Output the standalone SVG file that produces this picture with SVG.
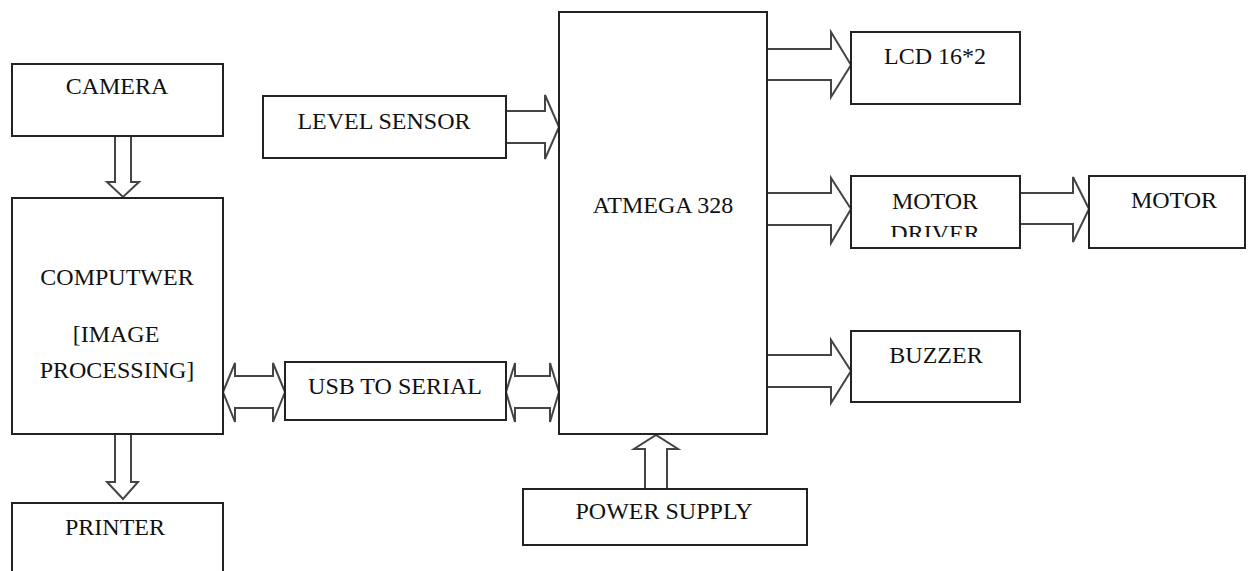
<svg xmlns="http://www.w3.org/2000/svg" width="1249" height="571" viewBox="0 0 1249 571">
<style>
.box{fill:#fff;stroke:#222;stroke-width:2}
.arr{fill:#fff;stroke:#444;stroke-width:2;stroke-linejoin:miter}
text{font-family:"Liberation Serif","DejaVu Serif",serif;font-size:24px;fill:#111;text-anchor:middle}
</style>
<defs>
<clipPath id="drvclip"><rect x="851" y="176" width="169" height="61"/></clipPath>
</defs>
<rect width="1249" height="571" fill="#fff"/>
<g id="connectors">
<polygon class="arr" points="115,136 131,136 131,182 139,182 123,197 107,182 115,182"/>
<polygon class="arr" points="115,434 131,434 131,482 138,482 123,499 107,482 115,482"/>
<polygon class="arr" points="645,489 667,489 667,449 678,449 656,435 634,449 645,449"/>
<polygon class="arr" points="223,392 235,363 235,376 273,376 273,363 285,392 273,422 273,408 235,408 235,422"/>
<polygon class="arr" points="506,392 515,363 515,376 550,376 550,363 559,392 550,422 550,408 515,408 515,422"/>
<polygon class="arr" points="506,111 545,111 545,95 559,127 545,159 545,143 506,143"/>
<polygon class="arr" points="767,49 831,49 831,32 851,65 831,97 831,80 767,80"/>
<polygon class="arr" points="767,193 831,193 831,178 851,209 831,243 831,225 767,225"/>
<polygon class="arr" points="767,355 831,355 831,340 851,371 831,403 831,387 767,387"/>
<polygon class="arr" points="1020,193 1073,193 1073,177 1089,209 1073,242 1073,224 1020,224"/>
</g>
<g id="camera"><rect class="box" x="12" y="64" width="211" height="72"/><text x="117" y="94">CAMERA</text></g>
<g id="computer"><rect class="box" x="12" y="198" width="211" height="236"/><text x="117" y="285">COMPUTWER</text><text x="116" y="342">[IMAGE</text><text x="117" y="378">PROCESSING]</text></g>
<g id="printer"><rect class="box" x="12" y="503" width="211" height="72"/><text x="115" y="535">PRINTER</text></g>
<g id="level-sensor"><rect class="box" x="263" y="96" width="243" height="62"/><text x="384" y="129">LEVEL SENSOR</text></g>
<g id="usb-serial"><rect class="box" x="285" y="362" width="221" height="58"/><text x="395" y="394">USB TO SERIAL</text></g>
<g id="atmega"><rect class="box" x="559" y="12" width="208" height="422"/><text x="663" y="213">ATMEGA 328</text></g>
<g id="power-supply"><rect class="box" x="523" y="489" width="284" height="56"/><text x="664" y="519">POWER SUPPLY</text></g>
<g id="lcd"><rect class="box" x="851" y="32" width="169" height="72"/><text x="935" y="64">LCD 16*2</text></g>
<g id="motor-driver"><rect class="box" x="851" y="176" width="169" height="72"/><text x="935" y="209">MOTOR</text><text x="935" y="241" clip-path="url(#drvclip)">DRIVER</text></g>
<g id="buzzer"><rect class="box" x="851" y="331" width="169" height="71"/><text x="936" y="363">BUZZER</text></g>
<g id="motor"><rect class="box" x="1089" y="176" width="156" height="72"/><text x="1174" y="208">MOTOR</text></g>
</svg>
